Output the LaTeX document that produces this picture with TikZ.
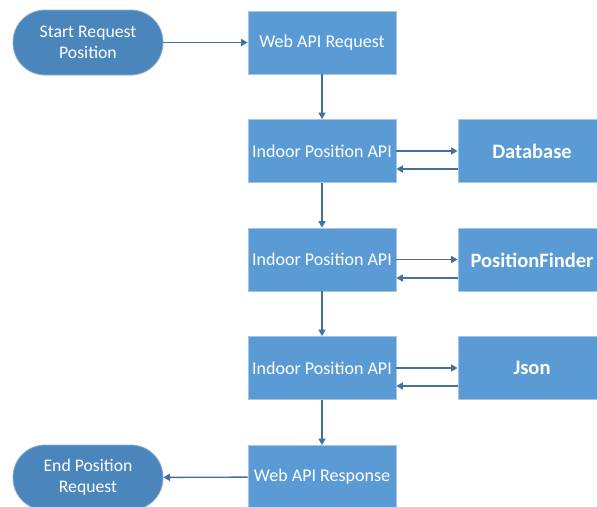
\documentclass[tikz,border=0pt]{standalone}
\usepackage{fontspec}
\setmainfont{Carlito}
\usetikzlibrary{arrows.meta}
\definecolor{boxblue}{HTML}{5B9BD5}
\definecolor{termblue}{HTML}{4A86BC}
\definecolor{linkblue}{HTML}{41719C}
\definecolor{rimblue}{HTML}{A7C4E3}
\tikzset{
  procbox/.style={rectangle, fill=boxblue, draw=rimblue, line width=0.8pt,
    minimum width=148pt, minimum height=63pt, inner sep=0pt,
    text=white, font=\fontsize{18}{21}\selectfont, align=center},
  sidebox/.style={procbox, font=\fontsize{20.5}{24}\selectfont\bfseries},
  termbox/.style={rectangle, rounded corners=32pt, fill=termblue, draw=rimblue!70!termblue,
    line width=0.8pt, minimum width=150pt, minimum height=65pt, inner sep=0pt,
    text=white, font=\fontsize{17.7}{21}\selectfont, align=center},
  arr/.style={draw=linkblue, line width=1.4pt, -{Triangle[length=6.5pt,width=7pt]}}
}
\begin{document}
\begin{tikzpicture}[x=1pt,y=-1pt]
\useasboundingbox (0,0) rectangle (597,506);
\clip (0,0) rectangle (597,506);
\fill[white] (0,0) rectangle (597,506);

% flow column
\node[termbox] (start) at (88,42.5) {Start Request\\Position};
\node[procbox] (req)  at (322,42.5) {Web API Request};
\node[procbox] (ind1) at (322,151) {Indoor Position API};
\node[procbox] (ind2) at (322,259.5) {Indoor Position API};
\node[procbox] (ind3) at (322,368) {Indoor Position API};
\node[procbox] (resp) at (322,477) {Web API Response};
\node[termbox] (stop) at (88,477.5) {End Position\\Request};

% services on the right
\node[sidebox] (db)   at (532,151) {Database};
\node[sidebox] (pf)   at (532,260) {PositionFinder};
\node[sidebox] (json) at (532,368) {Json};

% main flow
\draw[arr] (start) -- (req);
\draw[arr] (req) -- (ind1);
\draw[arr] (ind1) -- (ind2);
\draw[arr] (ind2) -- (ind3);
\draw[arr] (ind3) -- (resp);
\draw[arr] (resp) -- (stop);

% calls and replies
\foreach \api/\svc in {ind1/db, ind2/pf, ind3/json}{
  \draw[arr] (\api.east) -- (\api.east -| \svc.west);
  \draw[arr] ([yshift=-18pt]\svc.west) -- ([yshift=-18pt]\svc.west -| \api.east);
}
\end{tikzpicture}
\end{document}
